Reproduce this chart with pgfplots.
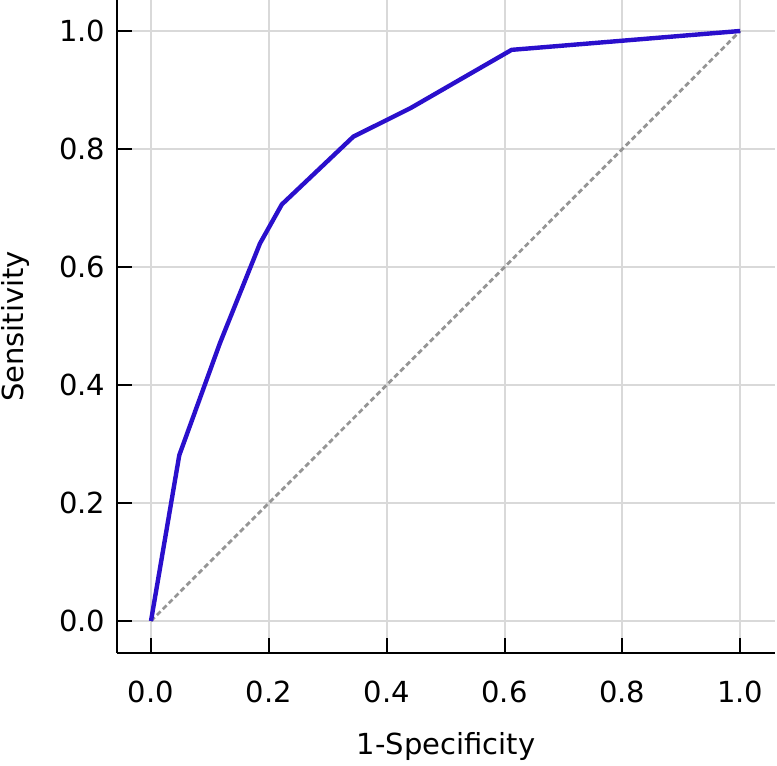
\documentclass[border=0pt]{standalone}
\usepackage{fontspec}
\setmainfont{DejaVu Sans}
\usepackage{pgfplots}
\pgfplotsset{compat=1.18}
\definecolor{roc}{HTML}{2A0FCC}
\definecolor{gridc}{HTML}{D9D9D9}
\definecolor{diag}{HTML}{959595}
\begin{document}
\begin{tikzpicture}
\begin{axis}[
  scale only axis,
  width=329pt, height=326.5pt,
  anchor=south west, at={(0,0)},
  xmin=-0.0577, xmax=1.059,
  ymin=-0.0542, ymax=1.0525,
  axis lines*=left,
  axis line style={line width=1pt, black},
  xtick={0,0.2,...,1.0}, ytick={0,0.2,...,1.0},
  tick align=inside,
  major tick length=7.5pt,
  tick style={line width=1pt, black},
  grid=major,
  grid style={line width=1pt, gridc},
  font=\fontsize{14.5}{17}\selectfont,
  /pgf/number format/.cd, fixed, fixed zerofill, precision=1, assume math mode=true,
  /pgfplots/.cd,
  xticklabel style={yshift=-10.5pt},
  yticklabel style={xshift=-2.3pt},
  xlabel={1-Specificity},
  ylabel={Sensitivity},
  xlabel style={at={(axis description cs:0.5,-0.1432)}, anchor=center},
  ylabel style={at={(axis description cs:-0.1535,0.5)}, anchor=center},
  clip=false,
]
  % chance line
  \addplot[diag, line width=1.4pt, dash pattern=on 2.6pt off 1.6pt] coordinates {(0,0) (1,1)};
  % ROC curve
  \addplot[roc, line width=2.2pt, line join=round] coordinates {
    (0,0) (0.048,0.281) (0.117,0.471) (0.185,0.640) (0.222,0.706)
    (0.3435,0.821) (0.44,0.869) (0.612,0.968) (1,1)};
\end{axis}
\pgfresetboundingbox
\path (-58.5pt,-56.5pt) rectangle (330pt,326.5pt);
\end{tikzpicture}
\end{document}
